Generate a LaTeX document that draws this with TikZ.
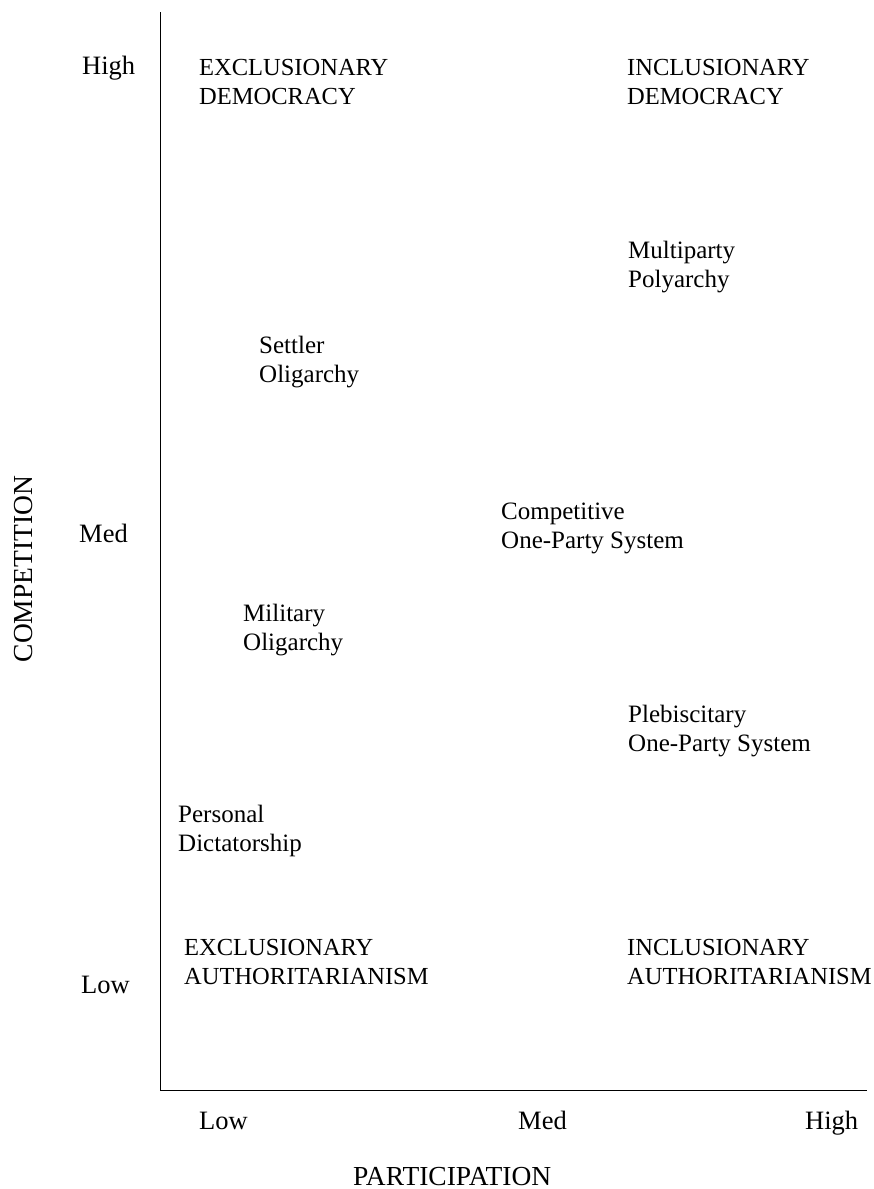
\documentclass[tikz,border=0pt]{standalone}
\usepackage{fontspec}
\setmainfont{Liberation Serif}
\begin{document}
\begin{tikzpicture}[x=1pt,y=-1pt,
  lbl/.style={font=\fontsize{25}{29}\selectfont, inner sep=0pt, align=left, anchor=base west},
  caps/.style={font=\fontsize{24.5}{29}\selectfont, inner sep=0pt, align=left, anchor=base west},
  tick/.style={font=\fontsize{26.5}{30}\selectfont, inner sep=0pt, anchor=base west},
  title/.style={font=\fontsize{27.5}{30}\selectfont, inner sep=0pt},
  axis/.style={line width=1.6pt}]
\useasboundingbox (0,0) rectangle (874,1189);
% axes
\coordinate (top) at (160.5,12);
\coordinate (origin) at (160.5,1090.5);
\coordinate (right) at (867,1090.5);
\draw[axis] (top) -- (origin) -- (right);
% y ticks
\node[tick] (yhigh) at (82,74) {High};
\node[tick] (ymed) at (79,542) {Med};
\node[tick] (ylow) at (81,993) {Low};
% x ticks
\node[tick] (xlow) at (199,1129) {Low};
\node[tick] (xmed) at (518,1129) {Med};
\node[tick] (xhigh) at (805,1129) {High};
% axis titles
\node[title, anchor=base west] (xtitle) at (353,1185) {PARTICIPATION};
\node[title, rotate=90, anchor=base] (ytitle) at (32,569) {COMPETITION};
% quadrant labels (base = last line)
\node[caps] (exdem) at (199,104) {EXCLUSIONARY\\DEMOCRACY};
\node[caps] (indem) at (627,104) {INCLUSIONARY\\DEMOCRACY};
\node[caps] (exauth) at (184,984) {EXCLUSIONARY\\AUTHORITARIANISM};
\node[caps] (inauth) at (627,984) {INCLUSIONARY\\AUTHORITARIANISM};
% regime types
\node[lbl] (multi) at (628,287) {Multiparty\\Polyarchy};
\node[lbl] (settler) at (259,382) {Settler\\Oligarchy};
\node[lbl] (comp) at (501,548) {Competitive\\One-Party System};
\node[lbl] (mil) at (243,650) {Military\\Oligarchy};
\node[lbl] (pleb) at (628,751) {Plebiscitary\\One-Party System};
\node[lbl] (pers) at (178,851) {Personal\\Dictatorship};
\end{tikzpicture}
\end{document}
